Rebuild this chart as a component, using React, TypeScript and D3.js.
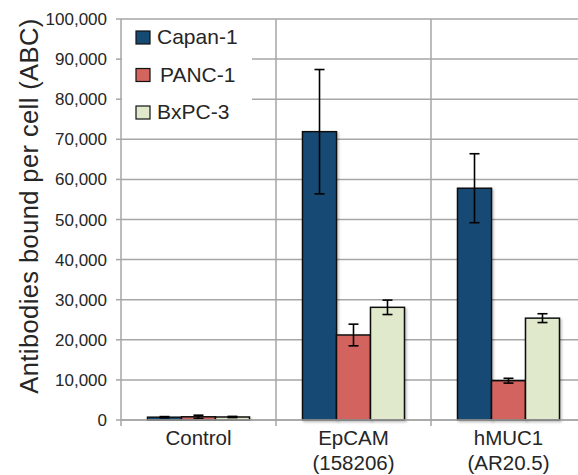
import React, { useEffect, useRef } from 'react';
import * as d3 from 'd3';

const categories = ['Control', 'EpCAM\n(158206)', 'hMUC1\n(AR20.5)'];
const seriesNames = ['Capan-1', 'PANC-1', 'BxPC-3'];
const seriesColors = ['#154a73', '#d3645e', '#e0e9cb'];
const capan = [700, 71900, 57800];
const panc = [800, 21200, 9800];
const bxpc = [750, 28100, 25400];
const capanErr = [150, 15500, 8600];
const pancErr = [400, 2700, 600];
const bxpcErr = [150, 1800, 1100];
const yTicks = [0, 10000, 20000, 30000, 40000, 50000, 60000, 70000, 80000, 90000, 100000];

export default function App() {
  const ref = useRef<SVGSVGElement>(null);

  useEffect(() => {
    const svg = d3.select(ref.current);
    svg.selectAll('*').remove();

    const left = 121, right = 586, top = 19, bottom = 420;
    const font = 'Liberation Sans, Arial, sans-serif';

    const x = d3.scaleBand().domain(categories).range([left, right]).paddingInner(0).paddingOuter(0);
    const inner = d3.scaleBand().domain(seriesNames).range([0, x.bandwidth()]).paddingInner(0).paddingOuter(0.78);
    const y = d3.scaleLinear().domain([0, 100000]).range([bottom, top]);

    const grid = '#a6a6a6';

    // horizontal gridlines
    svg.append('g').selectAll('line').data(yTicks).enter().append('line')
      .attr('x1', left).attr('x2', right)
      .attr('y1', d => y(d)).attr('y2', d => y(d))
      .attr('stroke', grid).attr('stroke-width', 1.5);

    // vertical category separators
    const bounds = categories.map(c => x(c) as number).concat([right]);
    svg.append('g').selectAll('line').data(bounds).enter().append('line')
      .attr('x1', d => d).attr('x2', d => d)
      .attr('y1', top).attr('y2', bottom + 6)
      .attr('stroke', grid).attr('stroke-width', 1.5);

    // y tick marks
    svg.append('g').selectAll('line').data(yTicks).enter().append('line')
      .attr('x1', left - 5).attr('x2', left)
      .attr('y1', d => y(d)).attr('y2', d => y(d))
      .attr('stroke', grid).attr('stroke-width', 1.5);

    svg.append('g').selectAll('text').data(yTicks).enter().append('text')
      .attr('x', 107).attr('y', d => y(d) + 6)
      .attr('text-anchor', 'end')
      .attr('font-family', font).attr('font-size', 17).attr('fill', '#262626')
      .text(d => d3.format(',')(d));

    // y axis title
    svg.append('text')
      .attr('transform', `translate(38,206) rotate(-90)`)
      .attr('text-anchor', 'middle')
      .attr('font-family', font).attr('font-size', 25.5).attr('fill', '#262626')
      .attr('letter-spacing', 0.4)
      .text('Antibodies bound per cell (ABC)');

    // bars
    const values = [capan, panc, bxpc];
    const errs = [capanErr, pancErr, bxpcErr];
    const defs = svg.append('defs');
    const filt = defs.append('filter').attr('id', 'sh').attr('x', '-20%').attr('y', '-20%').attr('width', '140%').attr('height', '140%');
    filt.append('feDropShadow').attr('dx', 1.5).attr('dy', 1.5).attr('stdDeviation', 1).attr('flood-color', '#000').attr('flood-opacity', 0.25);

    seriesNames.forEach((s, si) => {
      const g = svg.append('g');
      g.selectAll('rect').data(categories).enter().append('rect')
        .attr('x', c => (x(c) as number) + (inner(s) as number))
        .attr('y', (c, i) => y(values[si][i]))
        .attr('width', inner.bandwidth())
        .attr('height', (c, i) => bottom - y(values[si][i]))
        .attr('fill', seriesColors[si])
        .attr('stroke', '#111').attr('stroke-width', 1.5)
        .attr('filter', 'url(#sh)');
    });

    // error bars
    seriesNames.forEach((s, si) => {
      const g = svg.append('g').attr('stroke', '#000').attr('stroke-width', 1.6);
      categories.forEach((c, i) => {
        const cx = (x(c) as number) + (inner(s) as number) + inner.bandwidth() / 2;
        const hi = y(values[si][i] + errs[si][i]);
        const lo = y(Math.max(0, values[si][i] - errs[si][i]));
        g.append('line').attr('x1', cx).attr('x2', cx).attr('y1', hi).attr('y2', lo);
        g.append('line').attr('x1', cx - 5).attr('x2', cx + 5).attr('y1', hi).attr('y2', hi);
        g.append('line').attr('x1', cx - 5).attr('x2', cx + 5).attr('y1', lo).attr('y2', lo);
      });
    });

    // x axis line
    svg.append('line').attr('x1', left).attr('x2', right).attr('y1', bottom).attr('y2', bottom)
      .attr('stroke', grid).attr('stroke-width', 1.5);

    // category labels
    categories.forEach(c => {
      const cx = (x(c) as number) + x.bandwidth() / 2;
      const t = svg.append('text')
        .attr('x', cx)
        .attr('y', 445)
        .attr('text-anchor', 'middle')
        .attr('font-family', font).attr('font-size', 20.5).attr('fill', '#262626');
      c.split('\n').forEach((line, li) => {
        t.append('tspan').attr('x', cx).attr('dy', li === 0 ? 0 : 24.5).text(line);
      });
    });

    // legend
    const lg = svg.append('g');
    lg.append('rect').attr('x', left + 1).attr('y', top + 1).attr('width', 130).attr('height', 112).attr('fill', '#fff');
    seriesNames.forEach((s, si) => {
      const ly = 44 + si * 37.5;
      lg.append('rect').attr('x', 136).attr('y', ly - 13).attr('width', 14).attr('height', 13)
        .attr('fill', seriesColors[si]).attr('stroke', '#111').attr('stroke-width', 1.2);
      lg.append('text').attr('x', si === 1 ? 160 : 157).attr('y', ly)
        .attr('font-family', font).attr('font-size', 21).attr('fill', '#262626').text(s);
    });
  }, []);

  return (
    <svg ref={ref} width={578} height={475} style={{ position: 'absolute', left: 0, top: 0, background: '#fff' }} />
  );
}
